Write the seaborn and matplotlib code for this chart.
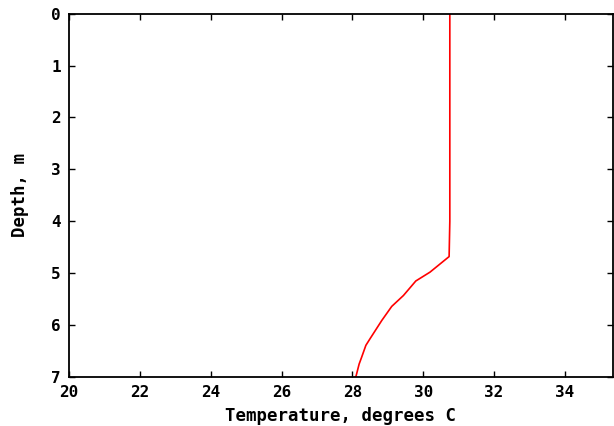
import pandas as pd
import seaborn as sns
import matplotlib.pyplot as plt

# temperature profile
temp = [30.75, 30.75, 30.73, 30.19, 29.79, 29.44, 29.11, 28.83, 28.50, 28.38, 28.26, 28.19, 28.10, 28.08]
depth = [0.0, 4.0, 4.68, 4.98, 5.15, 5.43, 5.64, 5.91, 6.26, 6.39, 6.62, 6.75, 6.99, 7.0]
xticks = [20, 22, 24, 26, 28, 30, 32, 34]
yticks = [0, 1, 2, 3, 4, 5, 6, 7]

df = pd.DataFrame({"Temperature": temp, "Depth": depth})

sns.set_style("ticks")
plt.rcParams["font.family"] = ["DejaVu Sans Mono", "DejaVu Sans"]
plt.rcParams["font.weight"] = "bold"
plt.rcParams["text.color"] = "black"
plt.rcParams["axes.labelcolor"] = "black"

fig = plt.figure(figsize=(6.14, 4.26), dpi=100)
ax = fig.add_axes([0.1124, 0.115, 0.8856, 0.853])

sns.lineplot(data=df, x="Temperature", y="Depth", sort=False, estimator=None,
             color="#ff0000", linewidth=1.2, ax=ax)

ax.set_xlim(20, 35.35)
ax.set_ylim(7, 0)
ax.set_xticks(xticks)
ax.set_yticks(yticks)
ax.tick_params(direction="in", length=4, width=1, top=True, right=True,
               labelsize=11.5, pad=6, colors="black")
for lab in ax.get_xticklabels() + ax.get_yticklabels():
    lab.set_fontweight("bold")
for s in ax.spines.values():
    s.set_linewidth(1.3)
    s.set_edgecolor("black")
    s.set_visible(True)

ax.set_xlabel("Temperature, degrees C", fontsize=12.5, fontweight="bold", labelpad=5)
ax.set_ylabel("Depth, m", fontsize=12.5, fontweight="bold", labelpad=16)

fig.savefig("out.png", dpi=100)
